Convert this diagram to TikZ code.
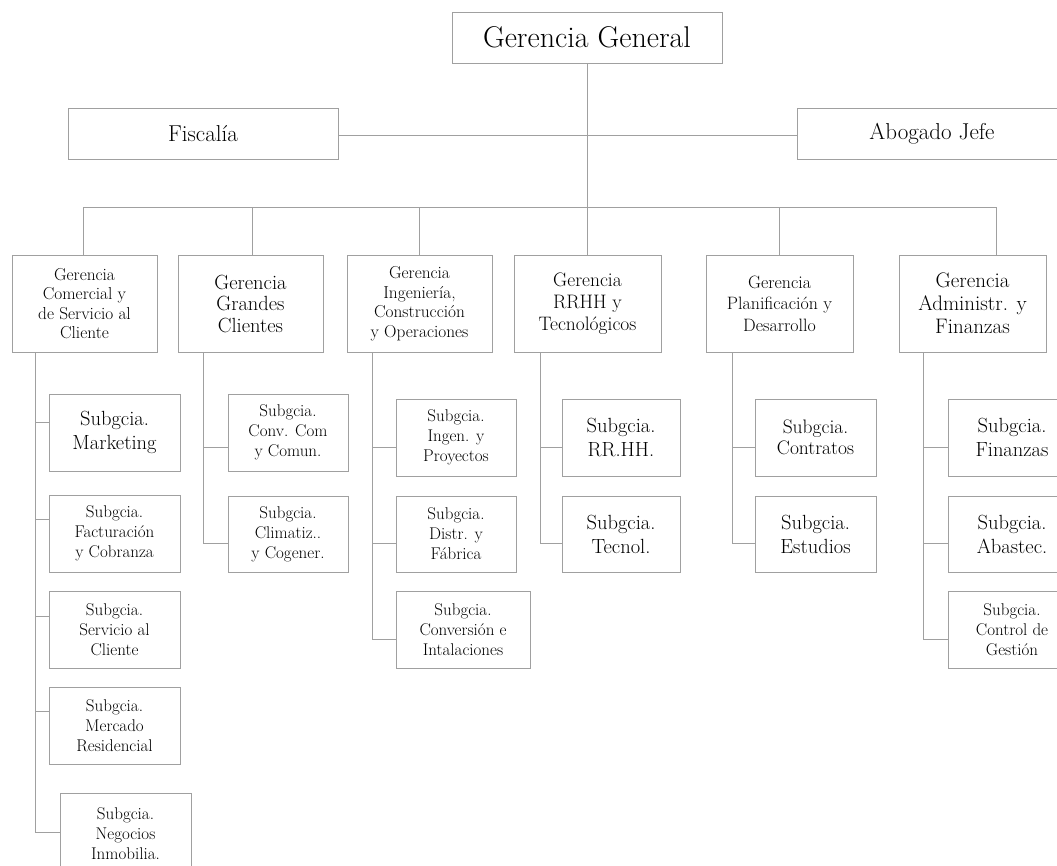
\documentclass[tikz,border=0pt]{standalone}
\usepackage{fontspec}
\setmainfont{Latin Modern Roman}
\definecolor{linec}{HTML}{A0A0A0}
\begin{document}
\begin{tikzpicture}[x=1pt,y=-1pt,
  box/.style={draw=linec, line width=0.9pt, rectangle, inner sep=0pt, align=center, text=black},
  conn/.style={draw=linec, line width=0.9pt},
  fGG/.style={font=\fontsize{30}{32}\selectfont},
  fTop/.style={font=\fontsize{23}{25}\selectfont},
  gA/.style={font=\fontsize{17.3}{19.5}\selectfont},
  gB/.style={font=\fontsize{20.5}{21.5}\selectfont},
  gC/.style={font=\fontsize{19.5}{22}\selectfont},
  gD/.style={font=\fontsize{17.9}{21.5}\selectfont},
  gE/.style={font=\fontsize{21}{23}\selectfont},
  sL/.style={font=\fontsize{20.5}{24}\selectfont},
  sM/.style={font=\fontsize{19.5}{20.5}\selectfont},
  sS/.style={font=\fontsize{17}{20}\selectfont}]
\newcommand\bx[7]{\node[box,#6,minimum width={(#4-#2)*1pt},minimum height={(#5-#3)*1pt}] (#1) at ({(#2+#4)/2},{(#3+#5)/2}) {#7};}
\newcommand\hconn[3]{\draw[conn] (#1 |- 0,#3) -- (#2.west |- 0,#3);}
\useasboundingbox (0,0) rectangle (1057,865);
\clip (0,0) rectangle (1057,865);

% top level
\bx{gg}{452}{12}{722}{63}{fGG}{Gerencia General}
\bx{fisc}{68}{108}{338}{159}{fTop}{Fiscalía}
\bx{abo}{797}{108}{1067}{159}{fTop}{Abogado Jefe}

% gerencias
\bx{g1}{12}{255}{157}{352}{gA}{Gerencia\\Comercial y\\de Servicio al\\Cliente}
\bx{g2}{178}{255}{323}{352}{gB}{Gerencia\\Grandes\\Clientes}
\bx{g3}{347}{255}{492}{352}{gA}{Gerencia\\Ingeniería,\\Construcción\\y Operaciones}
\bx{g4}{514}{255}{661}{352}{gC}{Gerencia\\RRHH y\\Tecnológicos}
\bx{g5}{706}{255}{853}{352}{gD}{Gerencia\\Planificación y\\Desarrollo}
\bx{g6}{899}{255}{1046}{352}{gE}{Gerencia\\Administr. y\\Finanzas}

% bus coordinates
\coordinate (d1) at (83,207);
\coordinate (d2) at (252,207);
\coordinate (d3) at (419,207);
\coordinate (d4) at (587,207);
\coordinate (d5) at (779,207);
\coordinate (d6) at (996,207);

\draw[conn] (gg.south) -- (gg.south |- d1);
\draw[conn] (fisc.east |- 0,135) -- (abo.west |- 0,135);
\draw[conn] (d1) -- (d6);
\foreach \i in {1,...,6}{\draw[conn] (d\i) -- (g\i.north -| d\i);}

% column lines
\coordinate (c1) at (35,0);
\coordinate (c2) at (203,0);
\coordinate (c3) at (372,0);
\coordinate (c4) at (540,0);
\coordinate (c5) at (732,0);
\coordinate (c6) at (923,0);

% sub-boxes column 1
\bx{s11}{49}{394}{180}{471}{sL}{Subgcia.\\Marketing}
\bx{s12}{49}{495}{180}{572}{sS}{Subgcia.\\Facturación\\y Cobranza}
\bx{s13}{49}{591}{180}{668}{sS}{Subgcia.\\Servicio al\\Cliente}
\bx{s14}{49}{687}{180}{764}{sS}{Subgcia.\\Mercado\\Residencial}
\bx{s15}{60}{793}{191}{875}{sS}{Subgcia.\\Negocios\\Inmobilia.}
% column 2
\bx{s21}{228}{394}{348}{471}{sS}{Subgcia.\\Conv. Com\\y Comun.}
\bx{s22}{228}{496}{348}{572}{sS}{Subgcia.\\Climatiz..\\y Cogener.}
% column 3
\bx{s31}{396}{399}{516}{476}{sS}{Subgcia.\\Ingen. y\\Proyectos}
\bx{s32}{396}{496}{516}{572}{sS}{Subgcia.\\Distr. y\\Fábrica}
\bx{s33}{396}{591}{530}{668}{sS}{Subgcia.\\Conversión e\\Intalaciones}
% column 4
\bx{s41}{562}{399}{680}{476}{sL}{Subgcia.\\RR.HH.}
\bx{s42}{562}{496}{680}{572}{sL}{Subgcia.\\Tecnol.}
% column 5
\bx{s51}{755}{399}{876}{476}{sM}{Subgcia.\\Contratos}
\bx{s52}{755}{496}{876}{572}{sL}{Subgcia.\\Estudios}
% column 6
\bx{s61}{948}{399}{1076}{476}{sL}{Subgcia.\\Finanzas}
\bx{s62}{948}{496}{1076}{572}{sL}{Subgcia.\\Abastec.}
\bx{s63}{948}{591}{1076}{668}{sS}{Subgcia.\\Control de\\Gestión}

% verticals
\draw[conn] (g1.south -| c1) -- (c1 |- 0,832);
\draw[conn] (g2.south -| c2) -- (c2 |- 0,543);
\draw[conn] (g3.south -| c3) -- (c3 |- 0,639);
\draw[conn] (g4.south -| c4) -- (c4 |- 0,543);
\draw[conn] (g5.south -| c5) -- (c5 |- 0,543);
\draw[conn] (g6.south -| c6) -- (c6 |- 0,639);

% horizontal connectors
\hconn{c1}{s11}{422}
\hconn{c1}{s12}{519}
\hconn{c1}{s13}{616}
\hconn{c1}{s14}{711}
\hconn{c1}{s15}{832}
\hconn{c2}{s21}{447}
\hconn{c2}{s22}{543}
\hconn{c3}{s31}{447}
\hconn{c3}{s32}{543}
\hconn{c3}{s33}{639}
\hconn{c4}{s41}{447}
\hconn{c4}{s42}{543}
\hconn{c5}{s51}{447}
\hconn{c5}{s52}{543}
\hconn{c6}{s61}{447}
\hconn{c6}{s62}{543}
\hconn{c6}{s63}{639}
\end{tikzpicture}
\end{document}
